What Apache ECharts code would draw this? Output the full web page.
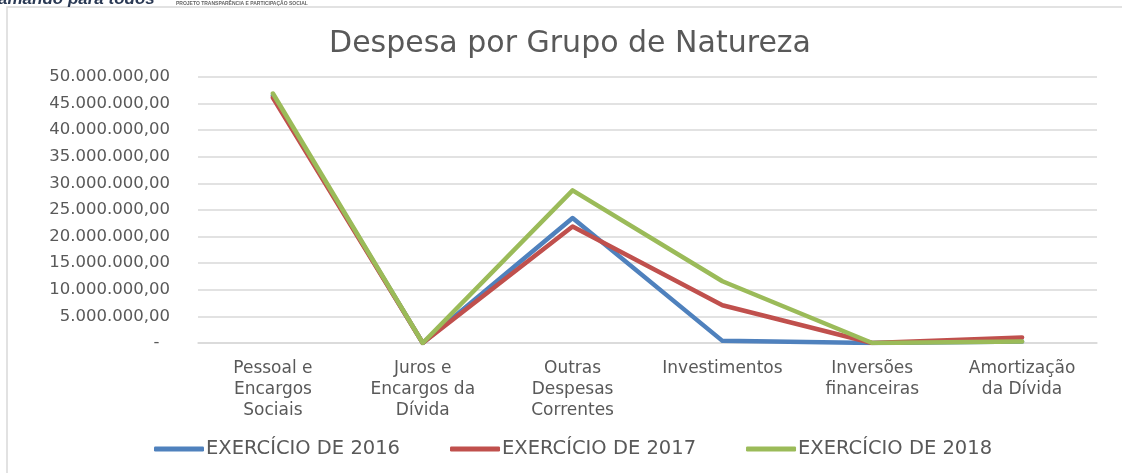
<!DOCTYPE html>
<html><head>
<meta charset="UTF-8">
<title>Despesa por Grupo de Natureza</title>
<script src="https://cdn.jsdelivr.net/npm/echarts@6/dist/echarts.min.js"></script>
<style>
html,body{margin:0;padding:0;background:#fff;}
#chart{width:1122px;height:473px;}
</style>
</head>
<body>
<div id="chart"></div>
<script>
// categorias (grupo de natureza da despesa)
var categorias = ['Pessoal e\nEncargos\nSociais', 'Juros e\nEncargos da\nDívida', 'Outras\nDespesas\nCorrentes',
    'Investimentos', 'Inversões\nfinanceiras', 'Amortização\nda Dívida'];
var exercicio2016 = [46500000, 0, 23500000, 400000, 0, 300000];
var exercicio2017 = [46100000, 0, 21900000, 7100000, 0, 1050000];
var exercicio2018 = [46900000, 0, 28700000, 11600000, 0, 300000];
var nomesSeries = ['EXERCÍCIO DE 2016', 'EXERCÍCIO DE 2017', 'EXERCÍCIO DE 2018'];
var cores = ['#4F81BD', '#C0504D', '#9BBB59'];

var fonte = 'DejaVu Sans';
var cinza = '#595959';

// formato 50.000.000,00 ; zero vira "-"
function fmtValor(v) {
    if (v === 0) return '-  ';
    var s = Math.round(v).toString().replace(/\B(?=(\d{3})+(?!\d))/g, '.');
    return s + ',00';
}

function serie(i, dados) {
    return {
        name: nomesSeries[i], type: 'line', data: dados,
        symbol: 'none', smooth: false,
        lineStyle: {color: cores[i], width: 4.5, cap: 'round', join: 'round'},
        itemStyle: {color: cores[i]}
    };
}

var chart = echarts.init(document.getElementById('chart'));
chart.setOption({
    backgroundColor: '#fff',
    animation: false,
    title: {
        text: 'Despesa por Grupo de Natureza', left: 565, textAlign: 'center', top: 24,
        textStyle: {fontFamily: fonte, fontSize: 30, fontWeight: 'normal', color: cinza}
    },
    graphic: [
        {type: 'rect', shape: {x: 7, y: 7, width: 1200, height: 600}, style: {fill: 'none', stroke: '#d9d9d9', lineWidth: 1.5}},
        {type: 'text', x: -2, y: -9, style: {text: 'amando para todos', font: 'italic bold 17px "Liberation Sans"', fill: '#2b3a55'}},
        {type: 'text', x: 176, y: 1, style: {text: 'PROJETO TRANSPARÊNCIA E PARTICIPAÇÃO SOCIAL', font: 'bold 5px "Liberation Sans"', fill: '#666'}}
    ],
    legend: {
        data: nomesSeries, top: 434, left: 149,
        icon: 'roundRect', itemWidth: 50, itemHeight: 5, itemGap: 50,
        textStyle: {fontFamily: fonte, fontSize: 19.5, color: cinza, padding: [0, 0, 0, -3]}
    },
    grid: {left: 198, right: 25, top: 77, bottom: 130, containLabel: false},
    xAxis: {
        type: 'category', data: categorias, boundaryGap: true,
        axisLine: {lineStyle: {color: '#d9d9d9', width: 1.5}},
        axisTick: {show: false},
        axisLabel: {fontFamily: fonte, fontSize: 17, color: cinza, lineHeight: 21, margin: 15, interval: 0}
    },
    yAxis: {
        type: 'value', min: 0, max: 50000000, interval: 5000000,
        axisLine: {show: false}, axisTick: {show: false},
        splitLine: {lineStyle: {color: '#d9d9d9', width: 1.5}},
        axisLabel: {fontFamily: fonte, fontSize: 16.5, color: cinza, margin: 28, formatter: fmtValor}
    },
    series: [serie(0, exercicio2016), serie(1, exercicio2017), serie(2, exercicio2018)]
});
</script>
</body></html>
